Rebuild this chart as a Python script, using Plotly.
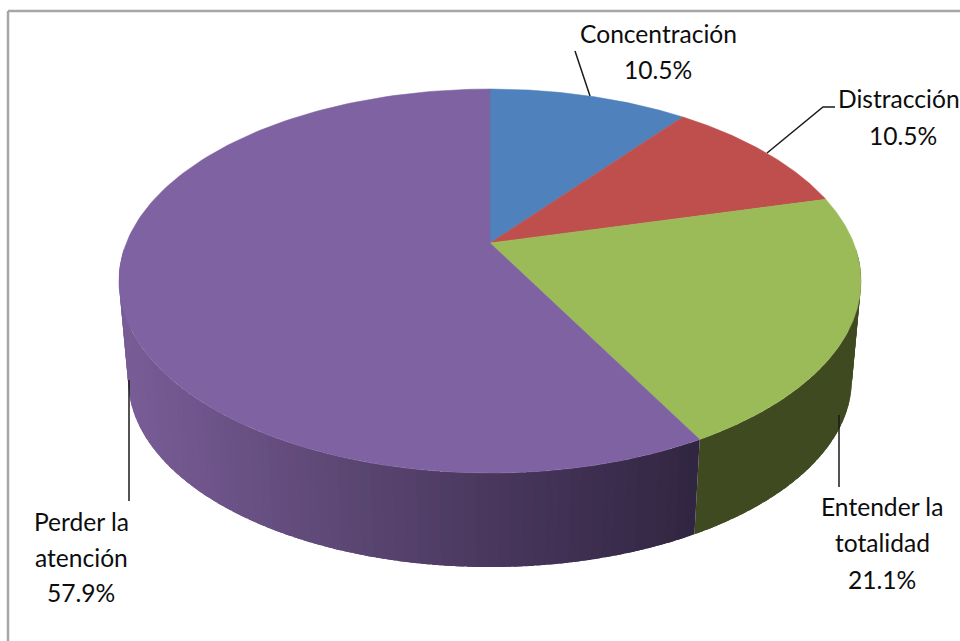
import numpy as np
import plotly.graph_objects as go

categories = ["Concentración", "Distracción", "Entender la totalidad", "Perder la atención"]
values = [10.5, 10.5, 21.1, 57.9]
value_labels = ["10.5%", "10.5%", "21.1%", "57.9%"]
top_colors = ["#4f81bd", "#bf4f4c", "#9bbb59", "#7f62a1"]

# Perspective model of the tilted disc, in pixel-like axis units
XC, YC, BX, BY, K = 490.0, 243.0, 363.7, 184.5, 0.198
S, DROP = 0.975, 99.75


def top_xy(t):
    d = 1 + K * np.cos(t)
    return XC + BX * np.sin(t) / d, YC - BY * np.cos(t) / d


def bottom_xy(t):
    x, y = top_xy(t)
    return XC + S * (x - XC), YC + S * (y - YC) + DROP


def wall_color(i, x):
    if i == 3:
        xs = [125, 300, 490, 692]
        r = np.interp(x, xs, [120, 97, 73, 49])
        g = np.interp(x, xs, [92, 75, 55, 38])
        b = np.interp(x, xs, [150, 122, 93, 66])
        return f"rgb({r:.0f},{g:.0f},{b:.0f})"
    return "#3f4a21"


fig = go.Figure()
total = sum(values)
edges = np.cumsum([0] + values) / total * 2 * np.pi
OVERLAP = np.radians(1.2)

# side wall, front half only, as shaded strips that overlap the next one
for i in range(len(values)):
    lo, hi = max(edges[i], np.radians(92)), min(edges[i + 1], np.radians(268))
    if hi <= lo:
        continue
    n = max(2, int(np.degrees(hi - lo) / 1.5))
    cuts = np.linspace(lo, hi, n + 1)
    for a, b in zip(cuts[:-1], cuts[1:]):
        t = np.linspace(a, min(b + OVERLAP, hi), 5)
        x1, y1 = top_xy(t)
        x2, y2 = bottom_xy(t[::-1])
        c = wall_color(i, float(np.mean(x1)))
        fig.add_trace(go.Scatter(
            x=np.r_[x1, x2, x1[0]], y=np.r_[y1, y2, y1[0]], mode="none",
            fill="toself", fillcolor=c,
            hoverinfo="skip", showlegend=False))

# top face wedges
for i, name in enumerate(categories):
    t = np.linspace(edges[i], edges[i + 1], 160)
    x, y = top_xy(t)
    fig.add_trace(go.Scatter(
        x=np.r_[XC, x, XC], y=np.r_[YC, y, YC], mode="lines", name=name,
        fill="toself", fillcolor=top_colors[i],
        line=dict(color=top_colors[i], width=0.5),
        text=f"{name}: {value_labels[i]}", hoverinfo="text", showlegend=False))

# labels, line by line
label_lines = [
    (658, 33, "Concentración"), (658, 69, value_labels[0]),
    (899, 98, "Distracción"), (903, 135, value_labels[1]),
    (882, 506, "Entender la"), (882, 542, "totalidad"), (882, 579, value_labels[2]),
    (81, 521, "Perder la"), (81, 557, "atención"), (81, 592, value_labels[3]),
]
for x, y, s in label_lines:
    fig.add_annotation(x=x, y=y, text=s, showarrow=False, xanchor="center",
                       yanchor="middle", font=dict(family="Lato", size=24.6, color="#0d0d0d"))

# leader lines
leaders = [
    ([575, 590], [51, 96]),
    ([835, 823, 767], [107, 107, 153]),
    ([839, 839], [415, 487]),
    ([129, 129], [380, 501]),
]
for lx, ly in leaders:
    fig.add_trace(go.Scatter(x=lx, y=ly, mode="lines", line=dict(color="#1a1a1a", width=1.5),
                             hoverinfo="skip", showlegend=False))

# chart-area frame (left and top edges are visible in the crop)
frame = dict(type="line", line=dict(color="#a6a6a6", width=2.5), xref="x", yref="y")
fig.add_shape(x0=8, x1=8, y0=11, y1=641, **frame)
fig.add_shape(x0=8, x1=960, y0=11, y1=11, **frame)

fig.update_xaxes(range=[0, 960], visible=False, fixedrange=True)
fig.update_yaxes(range=[641, 0], visible=False, fixedrange=True)
fig.update_layout(width=960, height=641, margin=dict(l=0, r=0, t=0, b=0),
                  paper_bgcolor="white", plot_bgcolor="white", showlegend=False)
fig.write_html("out.html", config={"displayModeBar": False},
               post_script="document.body.style.margin='0';document.body.style.overflow='hidden';")
